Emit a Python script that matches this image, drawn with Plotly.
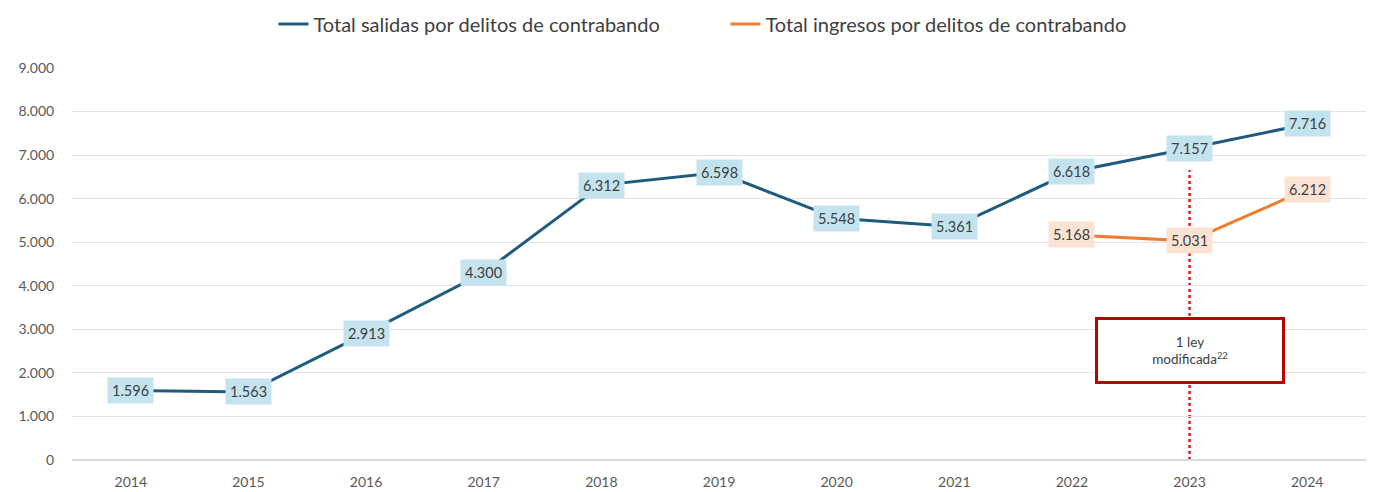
import plotly.graph_objects as go

years = ["2014", "2015", "2016", "2017", "2018", "2019", "2020", "2021", "2022", "2023", "2024"]
salidas = [1596, 1563, 2913, 4300, 6312, 6598, 5548, 5361, 6618, 7157, 7716]
ingresos = [None, None, None, None, None, None, None, None, 5168, 5031, 6212]
y_ticks = [0, 1000, 2000, 3000, 4000, 5000, 6000, 7000, 8000, 9000]

event_year = "2023"
event_top = 6650
event_label_y = 2525
event_text = "1 ley<br>modificada<sup>22</sup>"

blue = "#1f5b7e"
orange = "#ed7d31"
font_family = "Lato, Open Sans, sans-serif"

def fmt(v):
    return f"{v:,}".replace(",", ".")

xs = list(range(len(years)))
ev_x = years.index(event_year)

fig = go.Figure()
fig.add_trace(go.Scatter(x=xs, y=salidas, mode="lines", name="Total salidas por delitos de contrabando",
                         line=dict(color=blue, width=3)))
fig.add_trace(go.Scatter(x=xs, y=ingresos, mode="lines", name="Total ingresos por delitos de contrabando",
                         line=dict(color=orange, width=3)))

annots = []
for x, v in zip(xs, salidas):
    annots.append(dict(x=x, y=v, xref="x", yref="y", text=fmt(v), showarrow=False, bgcolor="#c3e4ef",
                       font=dict(size=14.5, color="#404040"), borderpad=4))
for x, v in zip(xs, ingresos):
    if v is not None:
        annots.append(dict(x=x, y=v, xref="x", yref="y", text=fmt(v), showarrow=False, bgcolor="#fbe3d4",
                           font=dict(size=14.5, color="#404040"), borderpad=4))
annots.append(dict(x=ev_x, y=event_label_y, xref="x", yref="y", text=event_text, showarrow=False,
                   bgcolor="white", bordercolor="#c00000", borderwidth=3,
                   font=dict(size=13.5, color="#404040"), width=182, height=59, align="center"))

shapes = [dict(type="line", xref="x", yref="y", x0=ev_x, x1=ev_x, y0=0, y1=event_top,
               line=dict(color="#e0201f", width=2.5, dash="dot"), layer="below")]

fig.update_layout(
    width=1368, height=484,
    margin=dict(l=64, r=10, t=60, b=32, autoexpand=False),
    paper_bgcolor="white", plot_bgcolor="white",
    separators=",.",
    font=dict(family=font_family, color="#595959", size=13),
    showlegend=True,
    legend=dict(orientation="h", x=0.505, xanchor="center", y=1.112, yanchor="middle",
                entrywidth=407, entrywidthmode="pixels",
                font=dict(size=20, color="#404040")),
    annotations=annots,
    shapes=shapes,
    xaxis=dict(range=[-0.5, 10.5], tickvals=xs, ticktext=years, showgrid=False, showline=False,
               ticks="outside", ticklen=9, tickcolor="white", zeroline=False,
               tickfont=dict(size=14, color="#595959")),
    yaxis=dict(range=[0, 9000], tickvals=y_ticks, tickformat=",d", showgrid=True, gridcolor="#e3e3e3",
               gridwidth=1, zeroline=True, zerolinecolor="#d9d9d9", showline=False, ticks="outside",
               ticklen=14, tickcolor="white", tickfont=dict(size=14, color="#595959")),
)

fig.write_html("out.html")
